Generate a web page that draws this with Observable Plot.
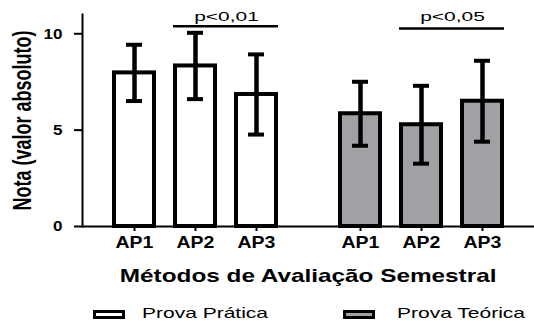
<!DOCTYPE html>
<html><head><meta charset="utf-8">
<script src="https://cdn.jsdelivr.net/npm/d3@7"></script>
<script src="https://cdn.jsdelivr.net/npm/@observablehq/plot@0.6"></script>
<style>
body{margin:0;background:#fff;font-family:"Liberation Sans",Arial,sans-serif;color:#000}
#chart svg{display:block}
g[aria-label="x-axis tick label"] text{font-weight:bold;font-size:16px}
g[aria-label="y-axis tick label"] text{font-weight:bold;font-size:15.5px}
g[aria-label="y-axis label"] text{font-weight:bold;font-size:18px}
#title{margin-top:9px;margin-left:82px;width:452px;text-align:center;font-weight:bold;font-size:19px;line-height:22px;height:22px;white-space:nowrap}
#title span{display:inline-block;transform:scaleX(1.28);transform-origin:50% 50%}
#legend{position:relative;height:18px;margin-top:16.5px;font-size:15px;line-height:18px}
.sw{position:absolute;top:6.5px;width:32px;height:9px;box-sizing:border-box;border:3px solid #000}
.lab{position:absolute;top:0;white-space:nowrap;transform:scaleX(1.4);transform-origin:0 50%}
</style>
</head><body>
<div id="chart"></div>
<div id="title"><span></span></div>
<div id="legend"></div>
<script>
// ---- data ----
const groups = ["Prova Prática", "Prova Teórica"];
const methods = ["AP1", "AP2", "AP3"];
const praticaMean = [7.97, 8.33, 6.85];
const praticaSD = [1.46, 1.72, 2.08];
const teoricaMean = [5.85, 5.28, 6.5];
const teoricaSD = [1.66, 2.02, 2.1];
const yTicks = [0, 5, 10];
const sigGroups = ["Prova Prática", "Prova Teórica"];
const sigFrom = ["AP2", "AP2"];
const sigTo = ["AP3", "AP3"];
const sigY = [10.39, 10.27];
const sigLabels = ["p<0,01", "p<0,05"];
const xTitle = "Métodos de Avaliação Semestral";
const yTitle = "Nota (valor absoluto)";
const groupColors = ["#ffffff", "#a1a1a5"];

const means = [praticaMean, teoricaMean];
const sds = [praticaSD, teoricaSD];
const data = [];
groups.forEach((g, gi) => methods.forEach((m, mi) => data.push({group: g, method: m, mean: means[gi][mi], sd: sds[gi][mi]})));
const sig = sigGroups.map((g, i) => ({group: g, from: sigFrom[i], to: sigTo[i], y: sigY[i], label: sigLabels[i]}));

const plot = Plot.plot({
  width: 534, height: 256,
  marginLeft: 82, marginRight: 0, marginTop: 14, marginBottom: 30,
  style: {fontFamily: '"Liberation Sans", Arial, sans-serif', background: "white", color: "black"},
  fx: {domain: groups, padding: 0, axis: null, label: null},
  x: {domain: methods, paddingInner: 0.35, paddingOuter: 0.52, align: 0.5, axis: null, label: null},
  y: {domain: [0, 11], axis: null},
  color: {domain: groups, range: groupColors},
  marks: [
    Plot.barY(data, {fx: "group", x: "method", y: "mean", fill: "group", stroke: "black", strokeWidth: 4}),
    Plot.ruleX(data, {fx: "group", x: "method", y1: d => d.mean - d.sd, y2: d => d.mean + d.sd, stroke: "black", strokeWidth: 4.5}),
    Plot.tickY(data, {fx: "group", x: "method", y: d => d.mean + d.sd, insetLeft: 12, insetRight: 12, stroke: "black", strokeWidth: 4}),
    Plot.tickY(data, {fx: "group", x: "method", y: d => d.mean - d.sd, insetLeft: 12, insetRight: 12, stroke: "black", strokeWidth: 4}),
    Plot.ruleY([0], {stroke: "black", strokeWidth: 2}),
    Plot.frame({anchor: "left", facetAnchor: "left", stroke: "black", strokeWidth: 2}),
    Plot.axisY({ticks: yTicks, tickSize: 8, tickPadding: 12, stroke: "black", strokeWidth: 2, label: yTitle, labelAnchor: "center", labelArrow: "none", labelOffset: 69}),
    Plot.axisX({tickSize: 5, tickPadding: 5, stroke: "black", strokeWidth: 2, label: null}),
    Plot.ruleY(sig, {fx: "group", x1: "from", x2: "to", y: "y", stroke: "black", strokeWidth: 2.5, insetLeft: -2, insetRight: -2}),
    Plot.text(sig, {fx: "group", x: "from", text: "label", frameAnchor: "top", lineAnchor: "bottom", dy: 6, dx: 31, fontSize: 12.5, fill: "black"})
  ]
});
document.getElementById("chart").append(plot);
const svg = d3.select(plot);
function stretch(sel, sx, sy) {
  svg.selectAll(sel).each(function() {
    const t = this.getAttribute("transform") || "";
    this.setAttribute("transform", t + ` scale(${sx},${sy})`);
  });
}
stretch('g[aria-label="text"] text', 1.68, 1);
stretch('g[aria-label="x-axis tick label"] text', 1.22, 1);
stretch('g[aria-label="y-axis tick label"] text', 1.1, 1);
stretch('g[aria-label="y-axis label"] text', 1, 1.4);

document.querySelector("#title span").textContent = xTitle;
const legend = document.getElementById("legend");
const swLeft = [93, 343], labLeft = [142, 397];
groups.forEach((g, i) => {
  const sw = document.createElement("div");
  sw.className = "sw"; sw.style.left = swLeft[i] + "px"; sw.style.background = groupColors[i];
  const lab = document.createElement("div");
  lab.className = "lab"; lab.style.left = labLeft[i] + "px"; lab.textContent = g;
  legend.append(sw, lab);
});
</script>
</body></html>
